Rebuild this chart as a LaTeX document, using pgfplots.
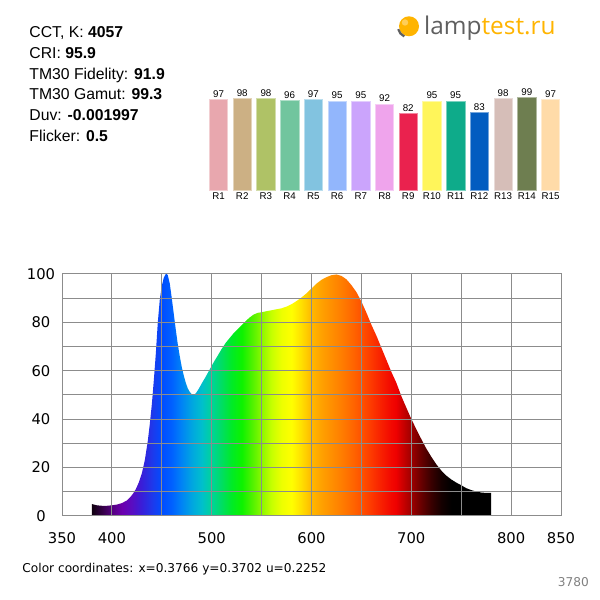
\documentclass[border=0pt]{standalone}
\usepackage{fontspec}
\setmainfont{Liberation Sans}
\newfontfamily\dejavu{DejaVu Sans}
\newfontfamily\opensans{Open Sans}
\usepackage{pgfplots}
\pgfplotsset{compat=1.18}
\usepackage{pgfplotstable}

\definecolor{gridgray}{RGB}{140,140,140}
\definecolor{logoorange}{RGB}{255,180,0}
\definecolor{logogray}{RGB}{95,95,95}
\definecolor{cA}{RGB}{232,167,174}
\definecolor{cB}{RGB}{204,176,132}
\definecolor{cC}{RGB}{175,194,102}
\definecolor{cD}{RGB}{113,197,158}
\definecolor{cE}{RGB}{130,195,224}
\definecolor{cF}{RGB}{146,182,252}
\definecolor{cG}{RGB}{203,164,252}
\definecolor{cH}{RGB}{239,164,236}
\definecolor{cI}{RGB}{234,34,78}
\definecolor{cJ}{RGB}{255,245,90}
\definecolor{cK}{RGB}{14,171,138}
\definecolor{cL}{RGB}{2,92,192}
\definecolor{cM}{RGB}{214,190,184}
\definecolor{cN}{RGB}{110,126,80}
\definecolor{cO}{RGB}{255,219,168}

% wavelength 380..780 nm mapped to 25bp..75bp
\pgfdeclarehorizontalshading{spectrum}{100bp}{%
rgb(0bp)=(0.06,0,0.06);
rgb(25bp)=(0.06,0,0.06);
rgb(26.25bp)=(0.2,0,0.27);
rgb(27.5bp)=(0.33,0,0.5);
rgb(28.75bp)=(0.42,0,0.68);
rgb(30bp)=(0.35,0.05,0.76);
rgb(31.25bp)=(0.22,0.12,0.85);
rgb(32.5bp)=(0.12,0.22,0.92);
rgb(33.75bp)=(0,0.3,1);
rgb(35bp)=(0,0.38,1);
rgb(36.25bp)=(0,0.52,0.96);
rgb(37.5bp)=(0,0.65,0.88);
rgb(38.75bp)=(0,0.75,0.8);
rgb(40bp)=(0,0.83,0.6);
rgb(41.25bp)=(0,0.87,0.38);
rgb(42.5bp)=(0,0.92,0.15);
rgb(43.75bp)=(0.05,0.95,0);
rgb(45bp)=(0.3,0.95,0);
rgb(46.25bp)=(0.55,0.97,0);
rgb(47.5bp)=(0.78,1,0);
rgb(48.75bp)=(0.93,1,0);
rgb(50bp)=(1,1,0);
rgb(51.25bp)=(1,0.87,0);
rgb(52.5bp)=(1,0.72,0);
rgb(53.75bp)=(1,0.63,0);
rgb(55bp)=(1,0.56,0);
rgb(56.25bp)=(1,0.49,0);
rgb(57.5bp)=(1,0.41,0);
rgb(58.75bp)=(1,0.32,0);
rgb(60bp)=(0.99,0.22,0);
rgb(61.25bp)=(0.97,0.12,0);
rgb(62.5bp)=(0.95,0.03,0);
rgb(63.125bp)=(0.93,0,0);
rgb(63.75bp)=(0.82,0,0);
rgb(65bp)=(0.62,0,0);
rgb(66.25bp)=(0.4,0,0);
rgb(67.5bp)=(0.22,0,0);
rgb(68.75bp)=(0.08,0,0);
rgb(70bp)=(0,0,0);
rgb(75bp)=(0,0,0);
rgb(100bp)=(0,0,0)}

\pgfplotstableread{
l v
380 4.8
382 4.6
385 4.3
390 4.1
395 4.1
400 4.3
405 4.6
410 5.2
415 6.3
418 7.5
421 9.0
424 11
427 13.8
430 17.5
433 23
436 31
438 38
440 46
442 56
444 67
446 80
448 89.5
450 95
452 98.5
454 100
455 100
456 99.5
458 96
460 90
462 83.5
464 77
466 71
468 66
470 61.5
472 58
474 55
476 52.7
478 51.2
480 50.3
482 50
484 50.6
486 51.8
488 53.2
490 54.7
494 57.5
498 60.5
502 63.5
506 66.2
510 69
514 71.5
518 73.5
522 75.5
526 77.2
530 78.8
534 80.5
538 82
542 83.2
546 83.9
550 84.2
555 84.6
560 85
565 85.4
570 85.8
575 86.5
580 87.5
585 88.8
590 90.3
595 92
600 94
605 96
610 97.6
615 98.7
620 99.5
625 99.8
630 99.2
635 97.8
640 95.4
645 92.5
650 88.6
655 84
660 79
665 74.5
670 69.5
675 64.5
680 59.5
685 55
690 49.5
695 44.7
700 40
705 35.8
710 31.7
715 27.8
720 24.4
725 21.3
730 18.7
735 16.6
740 15
745 13.7
750 12.6
755 11.4
760 10.6
765 10
770 9.6
775 9.4
780 9.4
}\spectrumdata

\begin{document}
\begin{tikzpicture}[x=1bp,y=1bp]
\path[use as bounding box] (0,0) rectangle (600,600);

% header text
\begin{scope}[every node/.style={anchor=base west, inner sep=0pt, font=\fontsize{15.8}{18}\selectfont}]
\node at (29.3,562.7) {CCT, K: \textbf{4057}};
\node at (29.3,541.8) {CRI: \textbf{95.9}};
\node at (29.3,520.9) {TM30 Fidelity: \textbf{91.9}};
\node at (29.3,500.0) {TM30 Gamut: \textbf{99.3}};
\node at (29.3,479.1) {Duv: \textbf{-0.001997}};
\node at (29.3,458.2) {Flicker: \textbf{0.5}};
\end{scope}

% logo
\fill[logoorange] (409,573.7) circle (10);
\fill[white, opacity=0.35] (405,577.5) circle (3.2);
\draw[logogray, line width=2.2] (409,573.7) ++(195:11.2) arc (195:245:11.2);
\node[anchor=base west, inner sep=0pt, font=\opensans\fontsize{24.5}{24}\selectfont] at (424,565.3)
  {\textcolor{logogray}{lamp}\textcolor{logoorange}{test.ru}};

% colour rendering bars
\begin{axis}[
  at={(206.64bp,410bp)}, anchor=south west,
  scale only axis, width=355.72bp, height=93.5bp,
  xmin=0.5, xmax=15.5, ymin=0, ymax=100,
  axis line style={draw=none}, major tick length=0pt,
  xtick={1,...,15},
  xticklabels={R1,R2,R3,R4,R5,R6,R7,R8,R9,R10,R11,R12,R13,R14,R15},
  ytick=\empty,
  /pgf/number format/assume math mode=true,
  xticklabel style={anchor=base, inner sep=0pt, yshift=-10bp, font=\fontsize{9.8}{10}\selectfont},
  every axis plot/.append style={ybar, bar width=18.3bp, bar shift=0pt, line width=0.6bp,
     nodes near coords, every node near coord/.append style={anchor=base, inner sep=0pt, yshift=2.2bp, font=\fontsize{9.8}{10}\selectfont, text=black}},
  clip=false,
]
\addplot[fill=cA, draw=cA!55!white] coordinates {(1,97)};
\addplot[fill=cB, draw=cB!55!white] coordinates {(2,98)};
\addplot[fill=cC, draw=cC!55!white] coordinates {(3,98)};
\addplot[fill=cD, draw=cD!55!white] coordinates {(4,96)};
\addplot[fill=cE, draw=cE!55!white] coordinates {(5,97)};
\addplot[fill=cF, draw=cF!55!white] coordinates {(6,95)};
\addplot[fill=cG, draw=cG!55!white] coordinates {(7,95)};
\addplot[fill=cH, draw=cH!55!white] coordinates {(8,92)};
\addplot[fill=cI, draw=cI!55!white] coordinates {(9,82)};
\addplot[fill=cJ, draw=cJ!55!white] coordinates {(10,95)};
\addplot[fill=cK, draw=cK!55!white] coordinates {(11,95)};
\addplot[fill=cL, draw=cL!55!white] coordinates {(12,83)};
\addplot[fill=cM, draw=cM!55!white] coordinates {(13,98)};
\addplot[fill=cN, draw=cN!55!white] coordinates {(14,99)};
\addplot[fill=cO, draw=cO!55!white] coordinates {(15,97)};
\end{axis}

% spectrum
\begin{axis}[
  at={(62bp,84.3bp)}, anchor=south west,
  scale only axis, width=499bp, height=241.7bp,
  xmin=350, xmax=850, ymin=0, ymax=100,
  xtick={350,400,...,850},
  xticklabels={350,400,,500,,600,,700,,800,850},
  ytick={0,10,...,100},
  yticklabels={0,,20,,40,,60,,80,,100},
  grid=major,
  grid style={gridgray, line width=1bp},
  axis line style={gridgray, line width=1bp},
  major tick length=0pt,
  axis on top,
  /pgf/number format/assume math mode=true,
  xticklabel style={anchor=center, yshift=-22.6bp, font=\dejavu\fontsize{14.8}{16}\selectfont},
  yticklabel style={anchor=center, xshift=-21bp, font=\dejavu\fontsize{14.8}{16}\selectfont},
]
\addplot[draw=none, shade, shading=spectrum] table[x=l, y=v] {\spectrumdata} \closedcycle;
\end{axis}

\node[anchor=base west, inner sep=0pt, font=\dejavu\fontsize{12.2}{14}\selectfont] at (22.3,27.7)
  {Color coordinates: x=0.3766 y=0.3702 u=0.2252};
\node[anchor=base east, inner sep=0pt, text=gray, font=\dejavu\fontsize{12.2}{14}\selectfont] at (589,13.5)
  {3780};
\end{tikzpicture}
\end{document}
